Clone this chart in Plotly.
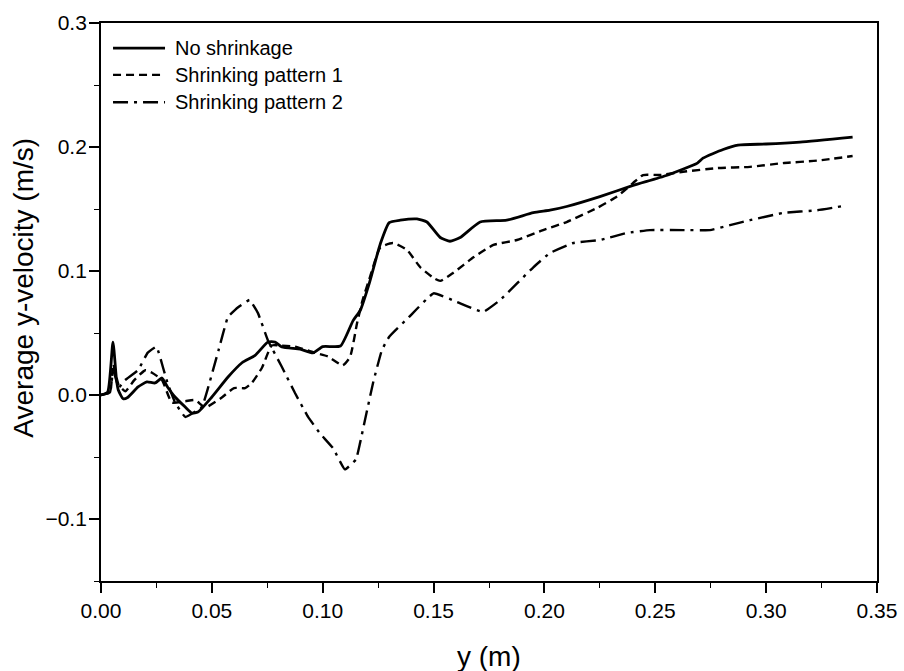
import plotly.graph_objects as go

# Average y-velocity profiles along y for three shrinkage cases
y_none = [0, 0.003, 0.0054, 0.007, 0.0078, 0.010, 0.012, 0.0167, 0.0207, 0.0244, 0.0275, 0.030,
          0.0334, 0.038, 0.041, 0.0437, 0.050, 0.0573, 0.0636, 0.0695, 0.0753, 0.0785, 0.0816,
          0.0898, 0.0956, 0.100, 0.108, 0.1137, 0.117, 0.121, 0.126, 0.130, 0.135, 0.1425, 0.147,
          0.153, 0.1574, 0.162, 0.171, 0.183, 0.195, 0.2025, 0.210, 0.225, 0.240, 0.255, 0.269,
          0.2715, 0.2806, 0.2873, 0.300, 0.3153, 0.339]
v_none = [0, 0.0024, 0.0427, 0.012, 0.004, -0.003, -0.002, 0.0065, 0.0105, 0.0097, 0.0137, 0.0065,
          -0.0016, -0.0097, -0.0145, -0.0137, -0.0016, 0.0145, 0.026, 0.032, 0.0427, 0.0427, 0.0387,
          0.037, 0.034, 0.039, 0.0395, 0.060, 0.0685, 0.090, 0.122, 0.139, 0.141, 0.142, 0.1395,
          0.127, 0.124, 0.127, 0.1395, 0.141, 0.147, 0.149, 0.152, 0.160, 0.169, 0.177, 0.187,
          0.191, 0.198, 0.2016, 0.2024, 0.204, 0.208]

y_p1 = [0, 0.004, 0.0055, 0.008, 0.011, 0.015, 0.020, 0.023, 0.0275, 0.032, 0.038, 0.0424, 0.047,
        0.0545, 0.060, 0.065, 0.068, 0.0726, 0.077, 0.080, 0.0875, 0.0965, 0.1024, 0.109, 0.1123,
        0.1155, 0.118, 0.1213, 0.126, 0.1317, 0.138, 0.1439, 0.150, 0.153, 0.1588, 0.168, 0.177,
        0.1876, 0.1994, 0.210, 0.2237, 0.2327, 0.240, 0.2445, 0.2521, 0.2625, 0.278, 0.2927,
        0.3076, 0.323, 0.339]
v_p1 = [0, 0.002, 0.025, 0.008, 0.003, 0.012, 0.020, 0.018, 0.012, -0.006, -0.005, -0.004, -0.010,
        -0.002, 0.0056, 0.0056, 0.0097, 0.022, 0.040, 0.040, 0.039, 0.034, 0.031, 0.024, 0.0306,
        0.058, 0.0766, 0.095, 0.119, 0.1226, 0.117, 0.1032, 0.0944, 0.092, 0.0984, 0.111, 0.121,
        0.125, 0.133, 0.1395, 0.1508, 0.160, 0.171, 0.1774, 0.1774, 0.180, 0.183, 0.184,
        0.187, 0.189, 0.1927]

y_p2 = [0, 0.004, 0.0055, 0.008, 0.0108, 0.0167, 0.021, 0.025, 0.028, 0.030, 0.0334, 0.038,
        0.0455, 0.048, 0.053, 0.0573, 0.062, 0.067, 0.0708, 0.0753, 0.0816, 0.0875, 0.0934,
        0.0988, 0.1047, 0.110, 0.115, 0.1168, 0.1227, 0.1267, 0.130, 0.139, 0.150, 0.1606,
        0.1723, 0.180, 0.195, 0.2025, 0.213, 0.225, 0.237, 0.2476, 0.2625, 0.2747, 0.2837,
        0.2927, 0.3076, 0.323, 0.3347]
v_p2 = [0, 0.002, 0.020, 0.006, 0.012, 0.020, 0.034, 0.039, 0.022, 0.0097, -0.006, -0.0177,
        -0.0097, 0.004, 0.036, 0.063, 0.071, 0.0766, 0.066, 0.044, 0.0226, 0.0016, -0.0177,
        -0.031, -0.043, -0.060, -0.052, -0.039, 0.0097, 0.0363, 0.047, 0.063, 0.082, 0.075,
        0.067, 0.0766, 0.103, 0.1145, 0.1226, 0.125, 0.1306, 0.133, 0.133, 0.133, 0.137,
        0.141, 0.1468, 0.149, 0.1524]

names = ["No shrinkage", "Shrinking pattern 1", "Shrinking pattern 2"]
dashes = ["solid", "8px,5px", "15px,6px,3px,6px"]
widths = [2.8, 2.4, 2.4]
smooth = [0.5, 0.5, 0.3]
series = [(y_none, v_none), (y_p1, v_p1), (y_p2, v_p2)]

FONT = "Arial, Liberation Sans, sans-serif"

fig = go.Figure()
for (xs, vs), name, dash, w, sm in zip(series, names, dashes, widths, smooth):
    fig.add_trace(go.Scatter(x=xs, y=vs, mode="lines", name=name,
                             line=dict(color="black", width=w, dash=dash, shape="spline", smoothing=sm),
                             showlegend=False))

# Legend drawn as line samples plus labels in the upper-left corner
leg_y = [0.955, 0.907, 0.858]
for name, dash, w, ly in zip(names, dashes, widths, leg_y):
    fig.add_shape(type="line", xref="paper", yref="paper", x0=0.0155, x1=0.0825, y0=ly, y1=ly,
                  line=dict(color="black", width=w, dash=dash))
    fig.add_annotation(xref="paper", yref="paper", x=0.0928, y=ly, text=name, showarrow=False,
                       xanchor="left", yanchor="middle", font=dict(size=20, color="black", family=FONT))

# Axis titles
fig.add_annotation(xref="paper", yref="paper", x=-0.101, y=0.525, text="Average y-velocity (m/s)",
                   textangle=-90, showarrow=False, xanchor="center", yanchor="middle",
                   font=dict(size=28, color="black", family=FONT))
fig.add_annotation(xref="paper", yref="paper", x=0.5, y=-0.136, text="y (m)",
                   showarrow=False, xanchor="center", yanchor="middle",
                   font=dict(size=28, color="black", family=FONT))

axis_common = dict(showline=True, linecolor="black", linewidth=1.8, mirror=True,
                   ticks="outside", ticklen=10, tickwidth=1.6, tickcolor="black",
                   showgrid=False, zeroline=False, automargin=False,
                   tickfont=dict(size=21, color="black", family=FONT))

fig.update_xaxes(range=[0, 0.35], dtick=0.05, tickformat=".2f",
                 minor=dict(ticks="outside", ticklen=5, tickwidth=1.4, tickcolor="black", dtick=0.025),
                 **axis_common)
fig.update_yaxes(range=[-0.15, 0.3], dtick=0.1, tickformat=".1f", ticklabelstandoff=-2,
                 minor=dict(ticks="outside", ticklen=5, tickwidth=1.4, tickcolor="black", dtick=0.05),
                 **axis_common)

fig.update_layout(width=904, height=671, margin=dict(l=101, r=27, t=23, b=90),
                  paper_bgcolor="white", plot_bgcolor="white",
                  font=dict(family=FONT, color="black"))

fig.write_html("out.html")
